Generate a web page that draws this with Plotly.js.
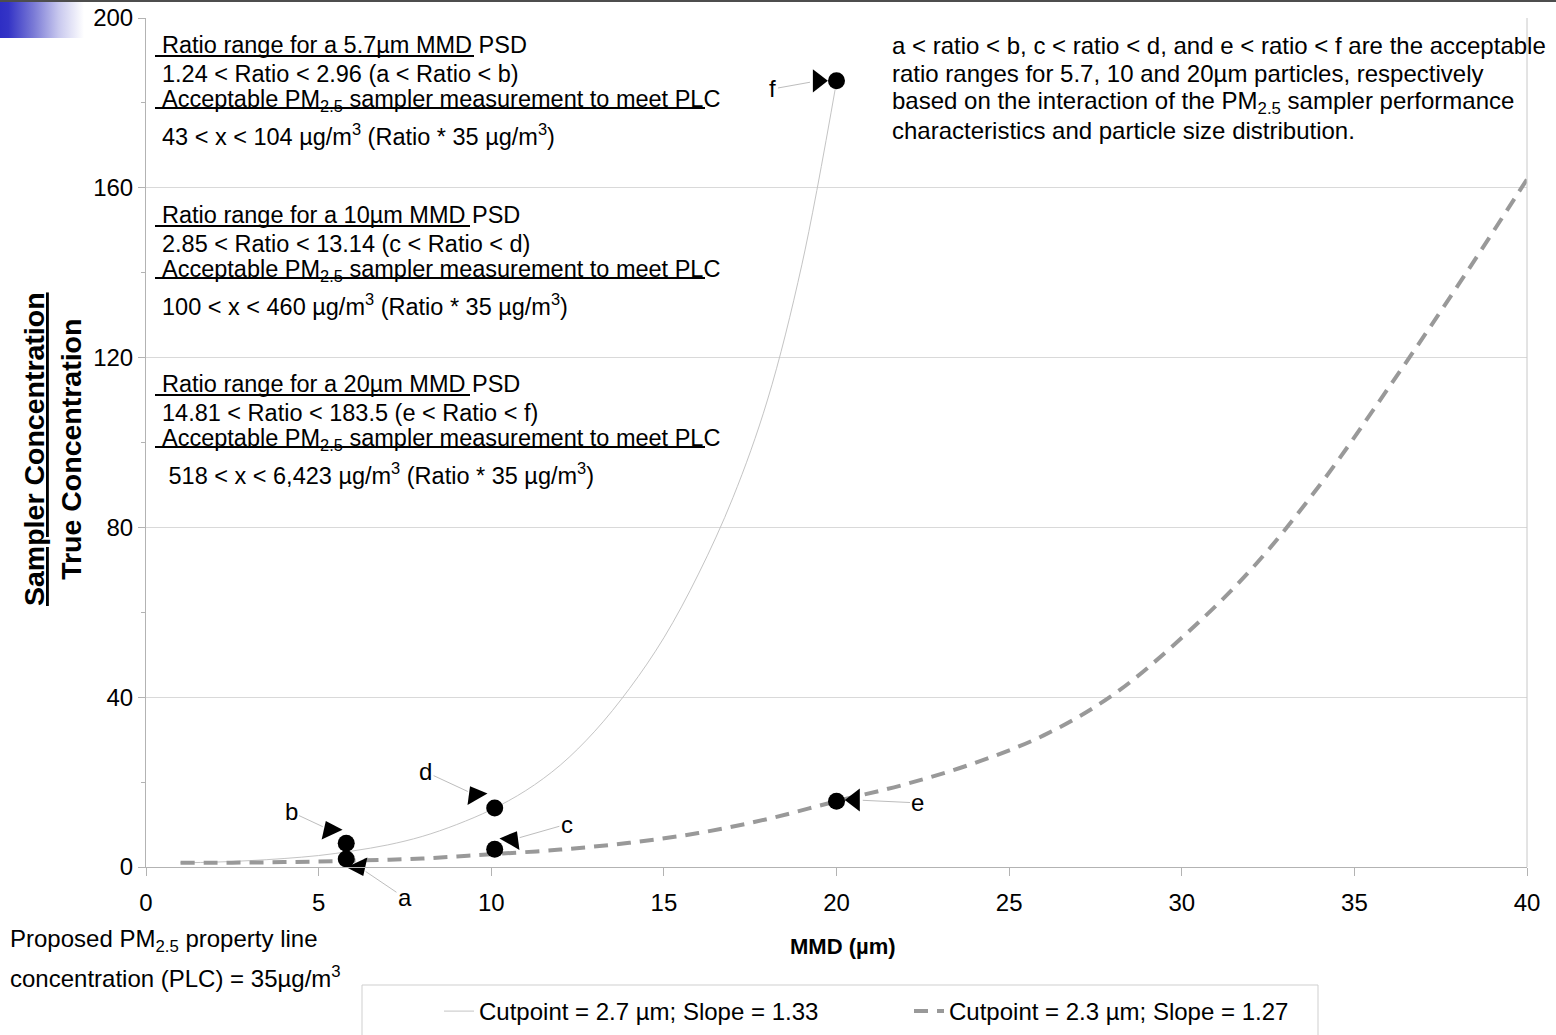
<!DOCTYPE html>
<html><head><meta charset="utf-8">
<script src="https://cdn.plot.ly/plotly-3.0.1.min.js"></script>
<style>
html,body{margin:0;padding:0;background:#fff;}
#chart{position:absolute;left:0;top:0;width:1556px;height:1035px;}
#topline{position:absolute;left:0;top:0;width:1556px;height:2px;background:#4d4d4d;z-index:5;pointer-events:none}
#grad{position:absolute;left:0;top:2px;width:84px;height:36px;z-index:5;pointer-events:none;
 background:linear-gradient(to right,#2e2ec4 0%,#3434c6 10%,#7a7ad6 40%,#c8c8ee 70%,#ffffff 100%);}
</style></head>
<body><div id="chart"></div><div id="topline"></div><div id="grad"></div>
<script>
// ---- data ----
const solidX = [1,2,3,4,5,6,7,8,9,10,11,12,13,14,15,16,17,18,19,20];
const solidY = [1.0,1.15,1.5,2.0,2.7,3.8,5.2,7.2,10,13.5,18,24,32,42,54,69,87,110,142,185];
const dashX = [1,2,3,4,5,6,7,8,9,10,12,14,16,18,20,22,24,26,28,30,32,34,36,38,40];
const dashY = [1.0,1.0,1.05,1.15,1.3,1.5,1.7,2.0,2.5,3.0,4.1,5.7,8.0,11.3,15.5,19.5,24.5,31,40.5,54,70,90,113,137,162];
const seriesNames = ['Cutpoint = 2.7 µm; Slope = 1.33','Cutpoint = 2.3 µm; Slope = 1.27'];

const pointLabels = ['a','b','c','d','e','f'];
const dotX = [5.8,5.8,10.1,10.1,20,20];
const dotY = [1.9,5.6,4.2,13.9,15.5,185.2];
const tipX = [6.17,5.33,10.6,9.53,20.53,19.46];
const tipY = [0,8.7,6.4,17.0,15.8,185.2];
const tipSymbol = ['triangle-down','triangle-up','triangle-up','triangle-up','triangle-left','triangle-right'];
const tipAngle = [-25,-25,30,-30,0,0];
const labelX = [7.5,4.2,12.19,8.1,22.36,18.16];
const labelY = [-7.3,13.0,10.1,22.4,15.1,183.3];

const xTicks = [0,5,10,15,20,25,30,35,40];
const yTicks = [0,40,80,120,160,200];

const leftBlocks = [
 ['Ratio range for a 5.7µm MMD PSD','1.24 &lt; Ratio &lt; 2.96 (a &lt; Ratio &lt; b)','Acceptable PM<sub>2.5</sub> sampler measurement to meet PLC','43 &lt; x &lt; 104 µg/m<sup>3</sup> (Ratio * 35 µg/m<sup>3</sup>)'],
 ['Ratio range for a 10µm MMD PSD','2.85 &lt; Ratio &lt; 13.14 (c &lt; Ratio &lt; d)','Acceptable PM<sub>2.5</sub> sampler measurement to meet PLC','100 &lt; x &lt; 460 µg/m<sup>3</sup> (Ratio * 35 µg/m<sup>3</sup>)'],
 ['Ratio range for a 20µm MMD PSD','14.81 &lt; Ratio &lt; 183.5 (e &lt; Ratio &lt; f)','Acceptable PM<sub>2.5</sub> sampler measurement to meet PLC',' 518 &lt; x &lt; 6,423 µg/m<sup>3</sup> (Ratio * 35 µg/m<sup>3</sup>)']
];
const rightLines = ['a &lt; ratio &lt; b, c &lt; ratio &lt; d, and e &lt; ratio &lt; f are the acceptable',
 'ratio ranges for 5.7, 10 and 20µm particles, respectively',
 'based on the interaction of the PM<sub>2.5</sub> sampler performance',
 'characteristics and particle size distribution.'];
const noteLines = ['Proposed PM<sub>2.5</sub> property line','concentration (PLC) = 35µg/m<sup>3</sup>'];
const xTitle = '<b>MMD (µm)</b>';
const yTitle = '<b><u>Sampler Concentration</u><br>True Concentration</b>';

// ---- layout helpers (pixel -> paper) ----
const W = 1556, H = 1035, L = 146, R = 29, T = 18, B = 168;
const PW = W - L - R, PH = H - T - B;
const px = v => (v - L) / PW;
const py = v => (H - B - v) / PH;
const FONT = 'Liberation Sans, Arial, sans-serif';

const traces = [
 {x: solidX, y: solidY, name: seriesNames[0], mode: 'lines', type: 'scatter',
  line: {color: '#c4c4c4', width: 1, shape: 'spline'}},
 {x: dashX, y: dashY, name: seriesNames[1], mode: 'lines', type: 'scatter',
  line: {color: '#999999', width: 4, dash: '14px,9px', shape: 'spline'}},
 {x: dotX, y: dotY, mode: 'markers', type: 'scatter', showlegend: false, cliponaxis: false,
  marker: {symbol: 'circle', size: 17, color: '#000'}},
 {x: tipX, y: tipY, mode: 'markers', type: 'scatter', showlegend: false, cliponaxis: false,
  marker: {symbol: tipSymbol, angle: tipAngle, size: 20, color: '#000'}}
];

const annotations = [];
const shapes = [];
const blockTops = [45, 215, 384];
const lineOffsets = [0, 29, 55, 90];
leftBlocks.forEach((blk, bi) => {
  blk.forEach((t, li) => {
    annotations.push({xref: 'paper', yref: 'paper', x: px(160), y: py(blockTops[bi] + lineOffsets[li]),
      xanchor: 'left', yanchor: 'middle', text: t, showarrow: false, font: {family: FONT, size: 23.5, color: '#000'}});
  });
  const u1 = blockTops[bi] + 11, u2 = blockTops[bi] + 63;
  shapes.push({type: 'line', xref: 'paper', yref: 'paper', x0: px(155), x1: px(bi === 0 ? 474 : 470), y0: py(u1), y1: py(u1), line: {color: '#000', width: 2}});
  shapes.push({type: 'line', xref: 'paper', yref: 'paper', x0: px(155), x1: px(705), y0: py(u2), y1: py(u2), line: {color: '#000', width: 2}});
});
const rightYs = [45, 73, 102, 131];
rightLines.forEach((t, i) => annotations.push({xref: 'paper', yref: 'paper', x: px(890), y: py(rightYs[i]),
  xanchor: 'left', yanchor: 'middle', text: t, showarrow: false, font: {family: FONT, size: 24, color: '#000'}}));
const noteYs = [940, 977];
noteLines.forEach((t, i) => annotations.push({xref: 'paper', yref: 'paper', x: px(8), y: py(noteYs[i]),
  xanchor: 'left', yanchor: 'middle', text: t, showarrow: false, font: {family: FONT, size: 24, color: '#000'}}));
annotations.push({xref: 'paper', yref: 'paper', x: px(843), y: py(946), xanchor: 'center', yanchor: 'middle',
  text: xTitle, showarrow: false, font: {family: FONT, size: 22, color: '#000'}});
annotations.push({xref: 'paper', yref: 'paper', x: px(52), y: py(449), xanchor: 'center', yanchor: 'middle',
  text: yTitle, textangle: -90, showarrow: false, font: {family: FONT, size: 28.5, color: '#000'}});
pointLabels.forEach((lab, i) => annotations.push({xref: 'x', yref: 'y', axref: 'x', ayref: 'y',
  x: tipX[i], y: tipY[i], ax: labelX[i], ay: labelY[i], text: lab, showarrow: true, arrowhead: 0,
  arrowwidth: 1, arrowcolor: '#bdbdbd', standoff: 8, font: {family: FONT, size: 24, color: '#000'}}));
// legend box
shapes.push({type: 'rect', xref: 'paper', yref: 'paper', x0: px(362), x1: px(1318), y0: py(985), y1: py(1040),
  line: {color: '#cfcfcf', width: 1}, fillcolor: 'rgba(0,0,0,0)'});

const layout = {
  width: W, height: H, margin: {l: L, r: R, t: T, b: B, autoexpand: false}, paper_bgcolor: '#fff', plot_bgcolor: '#fff',
  showlegend: true,
  legend: {orientation: 'h', x: px(439), y: py(989), xanchor: 'left', yanchor: 'top', bgcolor: 'rgba(0,0,0,0)',
    borderwidth: 0, font: {family: FONT, size: 24, color: '#000'}, entrywidth: 425, entrywidthmode: 'pixels'},
  xaxis: {range: [0, 40], tickvals: xTicks, ticktext: xTicks.map(String), showgrid: false, zeroline: false,
    showline: true, linecolor: '#b3b3b3', linewidth: 1, ticks: 'outside', ticklen: 8, tickcolor: '#b3b3b3',
    tickfont: {family: FONT, size: 24, color: '#000'}, ticklabelstandoff: 6, fixedrange: true},
  yaxis: {range: [0, 200], tickvals: yTicks, ticktext: yTicks.map(String), showgrid: true, gridcolor: '#d9d9d9',
    zeroline: false, showline: true, linecolor: '#b3b3b3', linewidth: 1, ticks: 'outside', ticklen: 7,
    tickcolor: '#b3b3b3', tickfont: {family: FONT, size: 24, color: '#000'}, ticklabelstandoff: 0,
    minor: {dtick: 20, tick0: 0, ticks: 'outside', ticklen: 4, tickcolor: '#b3b3b3', showgrid: false}, fixedrange: true},
  shapes: shapes.concat([{type: 'line', xref: 'paper', yref: 'paper', x0: 1, x1: 1, y0: 0, y1: 1, line: {color: '#c8c8c8', width: 1}}]),
  annotations: annotations
};
Plotly.newPlot('chart', traces, layout, {staticPlot: true, displayModeBar: false});
</script></body></html>
